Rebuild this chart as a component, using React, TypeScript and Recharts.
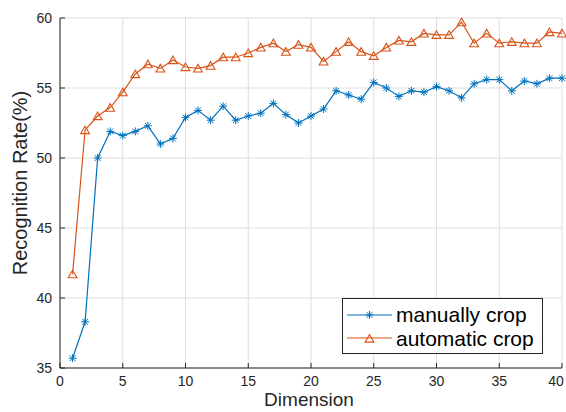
import React from "react";
import { LineChart, Line, XAxis, YAxis, CartesianGrid, Legend, Label } from "recharts";

// ── Data ────────────────────────────────────────────────────────────

const DIMENSIONS = [
  1, 2, 3, 4, 5, 6, 7, 8, 9, 10, 11, 12, 13, 14, 15, 16, 17, 18, 19, 20,
  21, 22, 23, 24, 25, 26, 27, 28, 29, 30, 31, 32, 33, 34, 35, 36, 37, 38, 39, 40,
];

const MANUAL_CROP = [
  35.7, 38.3, 50.0, 51.9, 51.6, 51.9, 52.3, 51.0, 51.4, 52.9, 53.4, 52.7, 53.7, 52.7, 53.0, 53.2, 53.9, 53.1, 52.5, 53.0,
  53.5, 54.8, 54.5, 54.2, 55.4, 55.0, 54.4, 54.8, 54.7, 55.1, 54.8, 54.3, 55.3, 55.6, 55.6, 54.8, 55.5, 55.3, 55.7, 55.7,
];

const AUTOMATIC_CROP = [
  41.7, 52.0, 53.0, 53.6, 54.7, 56.0, 56.7, 56.4, 57.0, 56.5, 56.4, 56.6, 57.2, 57.2, 57.5, 57.9, 58.2, 57.6, 58.1, 57.9,
  56.9, 57.6, 58.3, 57.6, 57.3, 57.9, 58.4, 58.3, 58.9, 58.8, 58.8, 59.7, 58.2, 58.9, 58.2, 58.3, 58.2, 58.2, 59.0, 58.9,
];

const X_TICKS = [0, 5, 10, 15, 20, 25, 30, 35, 40];
const Y_TICKS = [35, 40, 45, 50, 55, 60];
const SERIES_ORDER = ["manual", "automatic"];

// ── Style ───────────────────────────────────────────────────────────

const FONT = "'Liberation Sans', Arial, Helvetica, sans-serif";
const AXIS = "#262626";
const GRID = "#dedede";
const BLUE = "#0072BD";
const ORANGE = "#D95319";
const WIDTH = 566;
const HEIGHT = 412;
const TICK_GAP = 8;
const TICK_LEN = 5;

const data = DIMENSIONS.map((dim, i) => ({
  dim,
  manual: MANUAL_CROP[i],
  automatic: AUTOMATIC_CROP[i],
}));

// ── Markers ─────────────────────────────────────────────────────────

function Asterisk({ cx, cy, color }: { cx: number; cy: number; color: string }) {
  const r = 4;
  const d = 2.9;
  return (
    <g stroke={color} strokeWidth={1}>
      <line x1={cx - r} x2={cx + r} y1={cy} y2={cy} />
      <line x1={cx} x2={cx} y1={cy - r} y2={cy + r} />
      <line x1={cx - d} x2={cx + d} y1={cy - d} y2={cy + d} />
      <line x1={cx - d} x2={cx + d} y1={cy + d} y2={cy - d} />
    </g>
  );
}

function Triangle({ cx, cy, color }: { cx: number; cy: number; color: string }) {
  const pts = `${cx},${cy - 4} ${cx - 4.4},${cy + 3.6} ${cx + 4.4},${cy + 3.6}`;
  return <polygon points={pts} fill="none" stroke={color} strokeWidth={1.1} />;
}

const manualDot = (p: any) => <Asterisk key={`m${p.index}`} cx={p.cx} cy={p.cy} color={BLUE} />;
const autoDot = (p: any) => <Triangle key={`a${p.index}`} cx={p.cx} cy={p.cy} color={ORANGE} />;

// ── Axis ticks (MATLAB style, pointing inward) ──────────────────────

function BottomTick({ x, y, payload }: any) {
  const axisY = y - TICK_GAP;
  // keep the last label inside the picture
  const tx = Math.min(x, WIDTH - 10);
  return (
    <g>
      <line x1={x} x2={x} y1={axisY} y2={axisY - TICK_LEN} stroke={AXIS} />
      <text x={tx} y={y} dy="0.71em" textAnchor="middle" fontSize={14} fontFamily={FONT} fill={AXIS}>
        {payload.value}
      </text>
    </g>
  );
}

function LeftTick({ x, y, payload }: any) {
  const axisX = x + TICK_GAP;
  return (
    <g>
      <line x1={axisX} x2={axisX + TICK_LEN} y1={y} y2={y} stroke={AXIS} />
      <text x={x} y={y} dy="0.355em" textAnchor="end" fontSize={14} fontFamily={FONT} fill={AXIS}>
        {payload.value}
      </text>
    </g>
  );
}

function TopTick({ x, y }: any) {
  return <line x1={x} x2={x} y1={y} y2={y + TICK_LEN} stroke={AXIS} />;
}

function RightTick({ x, y }: any) {
  return <line x1={x} x2={x - TICK_LEN} y1={y} y2={y} stroke={AXIS} />;
}

// ── Legend ──────────────────────────────────────────────────────────

function LegendBox({ payload }: any) {
  const items = [...(payload || [])].sort(
    (a: any, b: any) => SERIES_ORDER.indexOf(a.dataKey) - SERIES_ORDER.indexOf(b.dataKey)
  );
  return (
    <div
      style={{
        width: 201,
        height: 56,
        boxSizing: "border-box",
        border: `1px solid ${AXIS}`,
        background: "#fff",
        padding: "4px 0 0 4px",
        fontFamily: FONT,
        fontSize: 21,
        color: "#000",
      }}
    >
      {items.map((entry: any) => (
        <div key={entry.value} style={{ display: "flex", alignItems: "center", height: 23.5 }}>
          <svg width={45} height={16} style={{ marginRight: 4 }}>
            <line x1={0} x2={45} y1={8} y2={8} stroke={entry.color} strokeWidth={1.2} />
            {entry.dataKey === "manual" ? (
              <Asterisk cx={22.5} cy={8} color={entry.color} />
            ) : (
              <Triangle cx={22.5} cy={8.5} color={entry.color} />
            )}
          </svg>
          <span style={{ lineHeight: "23.5px" }}>{entry.value}</span>
        </div>
      ))}
    </div>
  );
}

// ── Chart ───────────────────────────────────────────────────────────

export default function App() {
  return (
    <div style={{ position: "absolute", left: 0, top: 0, background: "#fff" }}>
      <LineChart width={WIDTH} height={HEIGHT} data={data} margin={{ top: 18, right: 4, bottom: 0, left: 0 }}>
        <CartesianGrid stroke={GRID} strokeWidth={1} />
        <XAxis
          dataKey="dim"
          type="number"
          domain={[0, 40]}
          ticks={X_TICKS}
          height={44}
          axisLine={{ stroke: AXIS }}
          tickLine={false}
          tickSize={0}
          tickMargin={TICK_GAP}
          tick={<BottomTick />}
          interval={0}
        >
          <Label
            content={({ viewBox }: any) => (
              <text
                x={viewBox.x + viewBox.width / 2 - 2}
                y={406}
                textAnchor="middle"
                fontSize={19}
                fontFamily={FONT}
                fill={AXIS}
              >
                Dimension
              </text>
            )}
          />
        </XAxis>
        <XAxis
          xAxisId="top"
          orientation="top"
          type="number"
          domain={[0, 40]}
          ticks={X_TICKS}
          height={0}
          axisLine={{ stroke: AXIS }}
          tickLine={false}
          tickSize={0}
          tickMargin={0}
          tick={<TopTick />}
          interval={0}
        />
        <YAxis
          type="number"
          domain={[35, 60]}
          ticks={Y_TICKS}
          width={60}
          axisLine={{ stroke: AXIS }}
          tickLine={false}
          tickSize={0}
          tickMargin={TICK_GAP}
          tick={<LeftTick />}
          interval={0}
        >
          <Label
            content={({ viewBox }: any) => {
              const cy = viewBox.y + viewBox.height / 2 - 10;
              return (
                <text
                  x={27}
                  y={cy}
                  transform={`rotate(-90 27 ${cy})`}
                  textAnchor="middle"
                  fontSize={20}
                  fontFamily={FONT}
                  fill={AXIS}
                >
                  Recognition Rate(%)
                </text>
              );
            }}
          />
        </YAxis>
        <YAxis
          yAxisId="right"
          orientation="right"
          type="number"
          domain={[35, 60]}
          ticks={Y_TICKS}
          width={0}
          axisLine={{ stroke: AXIS }}
          tickLine={false}
          tickSize={0}
          tickMargin={0}
          tick={<RightTick />}
          interval={0}
        />
        <Line
          dataKey="manual"
          name="manually crop"
          stroke={BLUE}
          strokeWidth={1.2}
          dot={manualDot}
          activeDot={false}
          isAnimationActive={false}
        />
        <Line
          dataKey="automatic"
          name="automatic crop"
          stroke={ORANGE}
          strokeWidth={1.2}
          dot={autoDot}
          activeDot={false}
          isAnimationActive={false}
        />
        <Legend
          layout="vertical"
          align="center"
          verticalAlign="middle"
          content={<LegendBox />}
          wrapperStyle={{ left: 342, top: 298, width: 201 }}
        />
      </LineChart>
    </div>
  );
}
